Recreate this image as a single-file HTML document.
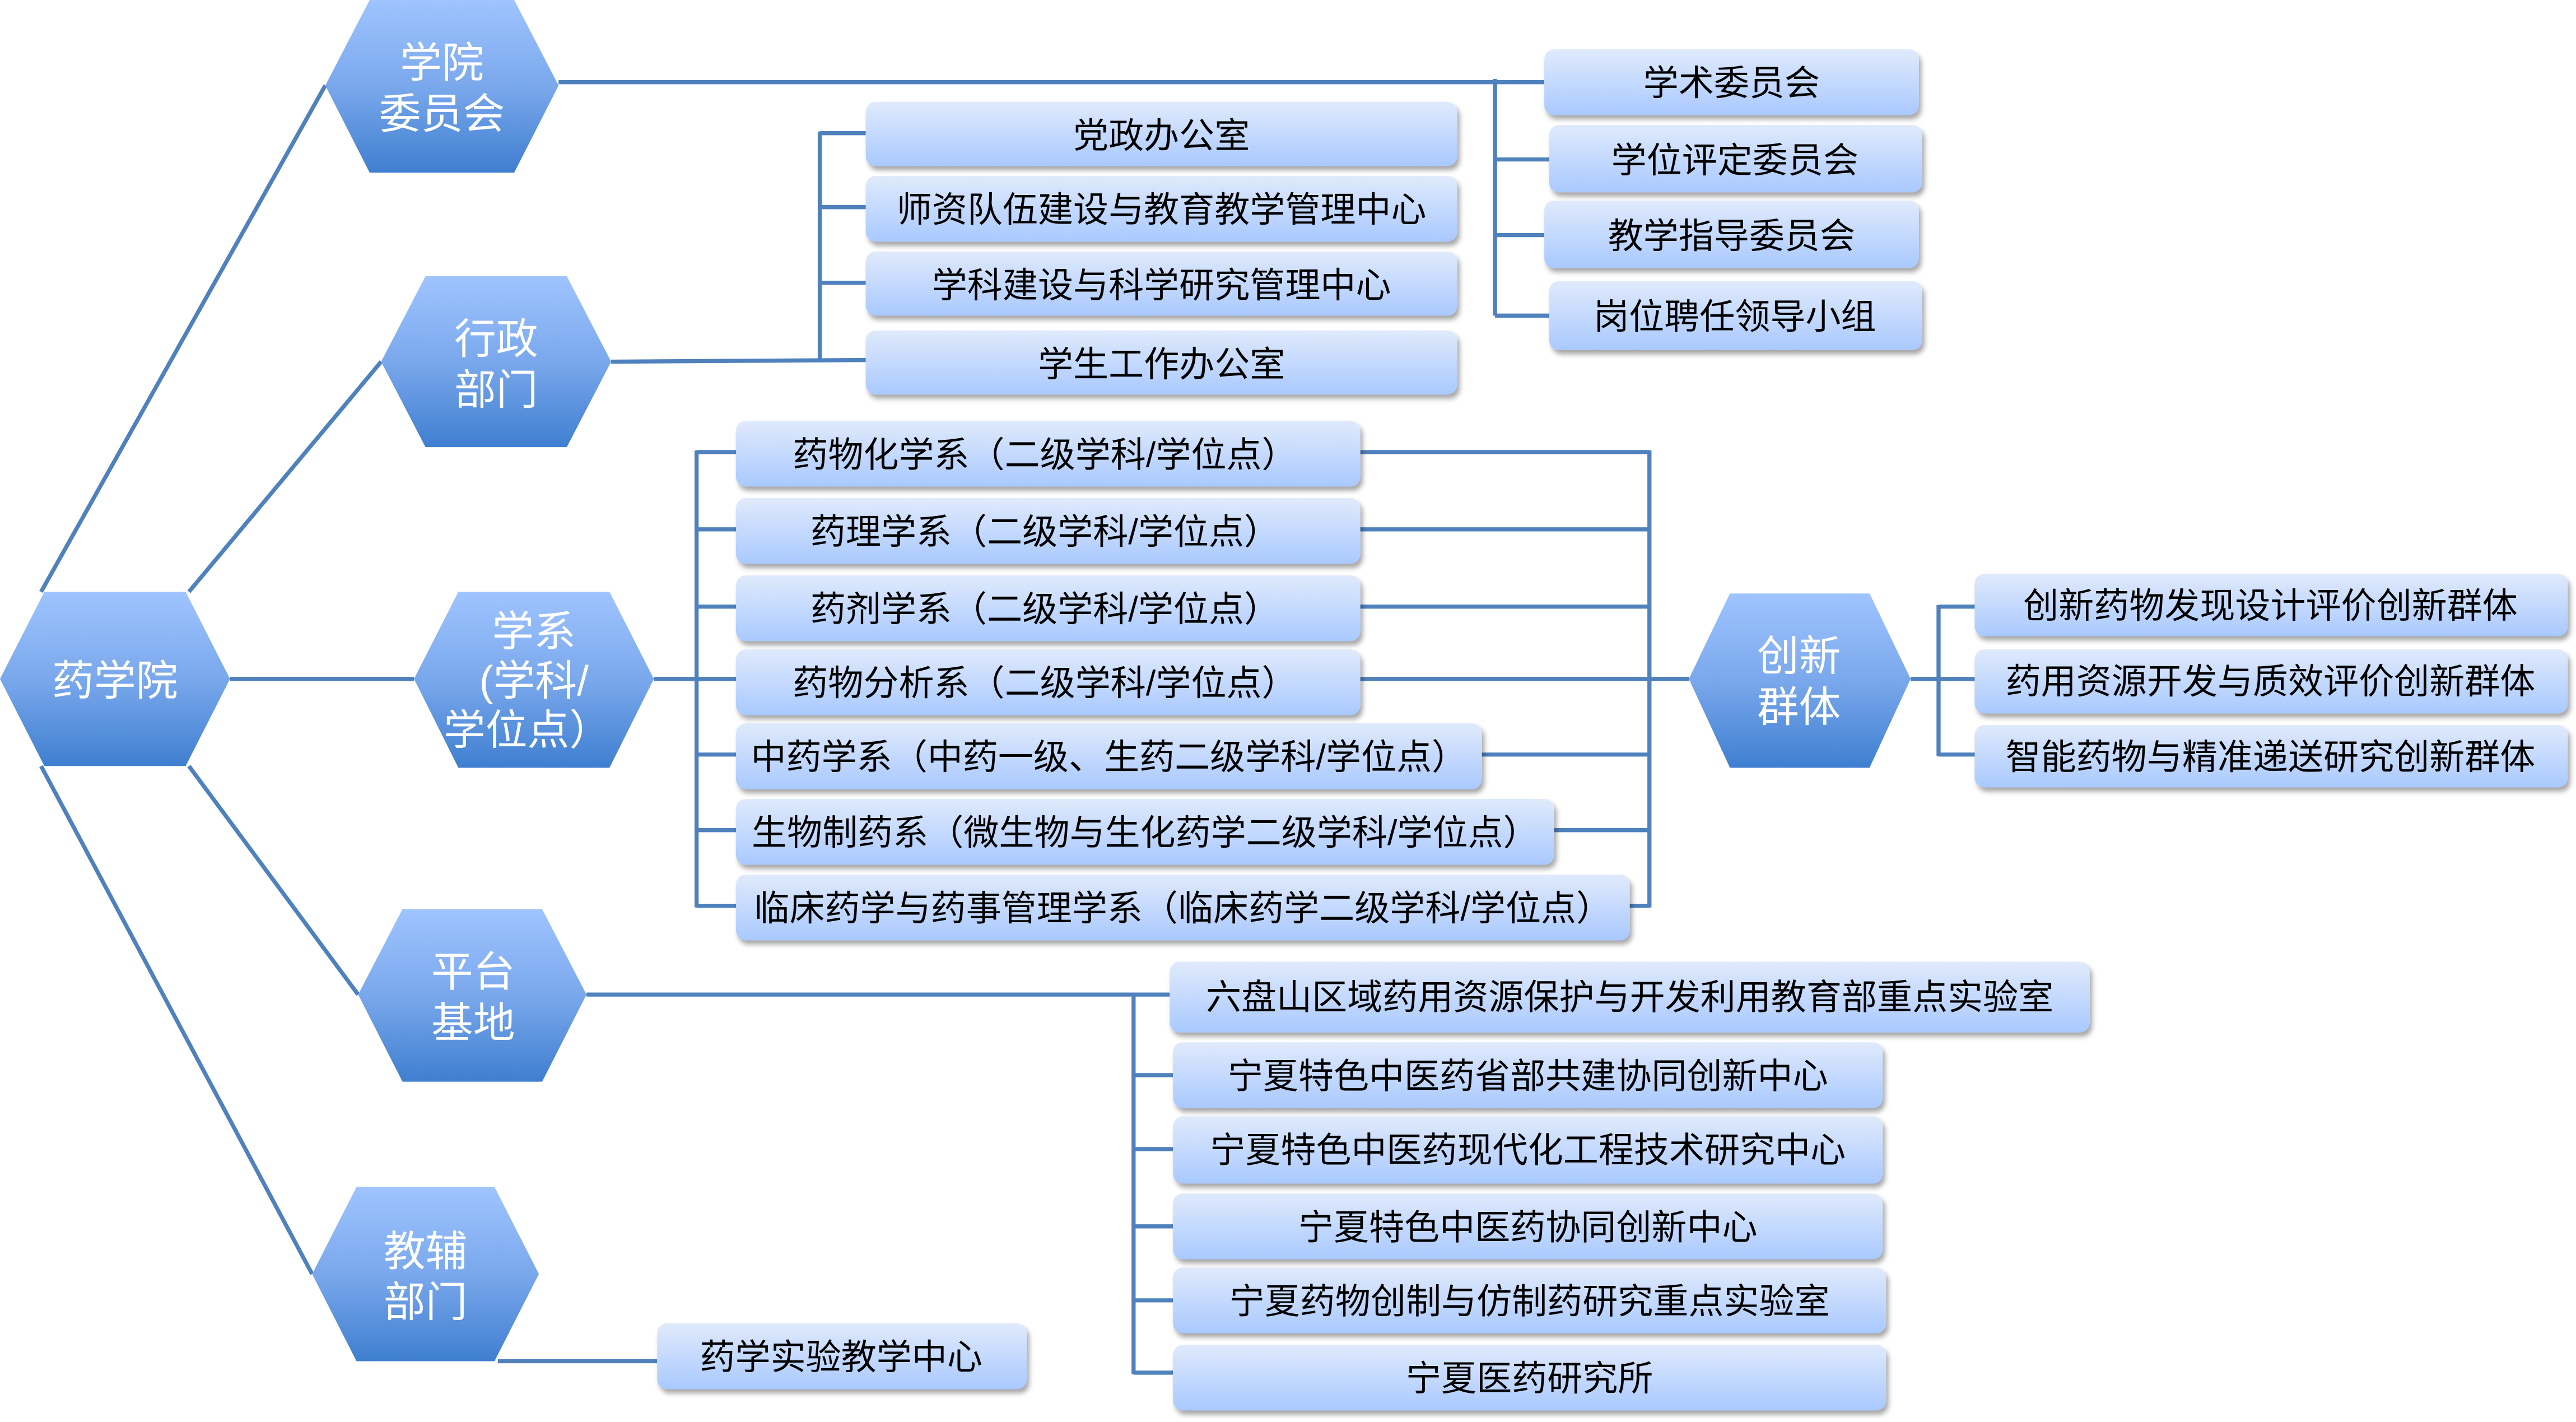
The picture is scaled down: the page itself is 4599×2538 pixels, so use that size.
<!DOCTYPE html>
<html><head><meta charset="utf-8"><style>
html,body{margin:0;padding:0;background:#fff;}
svg{display:block;}
text{font-family:"Liberation Sans","Noto Sans CJK SC",sans-serif;}
</style></head><body>
<svg width="4599" height="2538" viewBox="0 0 1568 865" preserveAspectRatio="none" xmlns="http://www.w3.org/2000/svg">
<defs>
<linearGradient id="hg" x1="0" y1="0" x2="0" y2="1"><stop offset="0" stop-color="#9fc4ff"/><stop offset="0.5" stop-color="#7aa8ec"/><stop offset="1" stop-color="#3f7fd0"/></linearGradient>
<linearGradient id="bg" x1="0" y1="0" x2="0" y2="1"><stop offset="0" stop-color="#e0eafc"/><stop offset="1" stop-color="#a9c9ff"/></linearGradient>
<filter id="sh" x="-5%" y="-20%" width="110%" height="160%"><feDropShadow dx="1.5" dy="2.5" stdDeviation="1.5" flood-color="#000" flood-opacity="0.35"/></filter>
</defs>
<g stroke="#4f81bd" stroke-width="2.5" fill="none">
<line x1="25" y1="360" x2="198" y2="52"/>
<line x1="115" y1="360" x2="232" y2="220"/>
<line x1="140" y1="413" x2="252" y2="413"/>
<line x1="115" y1="466" x2="218" y2="605"/>
<line x1="25" y1="466" x2="190" y2="775"/>
<polyline points="340,50 910,50"/>
<line x1="910" y1="48" x2="910" y2="192"/>
<line x1="910" y1="50" x2="940" y2="50"/><line x1="910" y1="97" x2="943" y2="97"/><line x1="910" y1="143" x2="940" y2="143"/><line x1="910" y1="192" x2="943" y2="192"/>
<line x1="372" y1="220" x2="527" y2="219"/>
<line x1="499" y1="80" x2="499" y2="220"/>
<line x1="499" y1="81" x2="527" y2="81"/><line x1="499" y1="126" x2="527" y2="126"/><line x1="499" y1="172" x2="527" y2="172"/>
<line x1="398" y1="413" x2="424" y2="413"/>
<line x1="424" y1="274" x2="424" y2="552"/>
<line x1="424" y1="275" x2="448" y2="275"/><line x1="424" y1="322" x2="448" y2="322"/><line x1="424" y1="369" x2="448" y2="369"/><line x1="424" y1="413" x2="448" y2="413"/><line x1="424" y1="459" x2="448" y2="459"/><line x1="424" y1="505" x2="448" y2="505"/><line x1="424" y1="551" x2="448" y2="551"/>
<line x1="1004" y1="274" x2="1004" y2="552"/>
<line x1="828" y1="275" x2="1004" y2="275"/><line x1="828" y1="322" x2="1004" y2="322"/><line x1="828" y1="369" x2="1004" y2="369"/><line x1="828" y1="413" x2="1028" y2="413"/><line x1="902" y1="459" x2="1004" y2="459"/><line x1="946" y1="505" x2="1004" y2="505"/><line x1="992" y1="551" x2="1004" y2="551"/>
<line x1="1163" y1="413" x2="1202" y2="413"/>
<line x1="1180" y1="368" x2="1180" y2="460"/>
<line x1="1180" y1="369" x2="1202" y2="369"/><line x1="1180" y1="459" x2="1202" y2="459"/>
<line x1="357" y1="605" x2="712" y2="605"/>
<line x1="690" y1="605" x2="690" y2="836"/>
<line x1="690" y1="654" x2="714" y2="654"/><line x1="690" y1="699" x2="714" y2="699"/><line x1="690" y1="746" x2="714" y2="746"/><line x1="690" y1="791" x2="714" y2="791"/><line x1="690" y1="835" x2="714" y2="835"/>
<line x1="303" y1="828" x2="400" y2="828"/>
</g>
<g fill="url(#hg)">
<polygon points="198,52 225,0 313,0 340,52 313,105 225,105"/>
<polygon points="232,220 259,168 345,168 372,220 345,272 259,272"/>
<polygon points="252,413 279,360 371,360 398,413 371,467 279,467"/>
<polygon points="218,605 245,553 330,553 357,605 330,658 245,658"/>
<polygon points="190,775 217,722 301,722 328,775 301,828 217,828"/>
<polygon points="0,413 27,360 113,360 140,413 113,466 27,466"/>
<polygon points="1028,413 1053,361 1138,361 1163,413 1138,467 1053,467"/>
</g>
<g fill="#fff" font-size="25.5" text-anchor="middle">
<text x="269" y="47">学院</text><text x="269" y="78">委员会</text>
<text x="302" y="215">行政</text><text x="302" y="246">部门</text>
<text x="325" y="393">学系</text><text x="325" y="423">(学科/</text><text x="321" y="453">学位点）</text>
<text x="288" y="600">平台</text><text x="288" y="631">基地</text>
<text x="259" y="770">教辅</text><text x="259" y="801">部门</text>
<text x="70" y="423">药学院</text>
<text x="1095" y="408">创新</text><text x="1095" y="439">群体</text>
</g>
<g fill="url(#bg)" filter="url(#sh)">
<rect x="940" y="30" width="228" height="40" rx="6"/>
<rect x="943" y="76" width="227" height="41" rx="6"/>
<rect x="940" y="122" width="228" height="41" rx="6"/>
<rect x="943" y="171" width="227" height="42" rx="6"/>
<rect x="527" y="62" width="360" height="39" rx="6"/>
<rect x="527" y="107" width="360" height="40" rx="6"/>
<rect x="527" y="153" width="360" height="39" rx="6"/>
<rect x="527" y="201" width="360" height="39" rx="6"/>
<rect x="448" y="256" width="380" height="40" rx="6"/>
<rect x="448" y="303" width="380" height="40" rx="6"/>
<rect x="448" y="350" width="380" height="40" rx="6"/>
<rect x="448" y="395" width="380" height="40" rx="6"/>
<rect x="448" y="440" width="454" height="40" rx="6"/>
<rect x="448" y="486" width="498" height="40" rx="6"/>
<rect x="448" y="532" width="544" height="40" rx="6"/>
<rect x="1202" y="349" width="361" height="38" rx="6"/>
<rect x="1202" y="395" width="361" height="39" rx="6"/>
<rect x="1202" y="441" width="361" height="38" rx="6"/>
<rect x="712" y="585" width="560" height="43" rx="6"/>
<rect x="714" y="634" width="432" height="40" rx="6"/>
<rect x="714" y="679" width="432" height="41" rx="6"/>
<rect x="714" y="726" width="432" height="40" rx="6"/>
<rect x="714" y="771" width="434" height="40" rx="6"/>
<rect x="714" y="818" width="434" height="40" rx="6"/>
<rect x="400" y="805" width="225" height="40" rx="6"/>
</g>
<g fill="#000" font-size="21.5" text-anchor="middle">
<text x="1054" y="58">学术委员会</text>
<text x="1056" y="105">学位评定委员会</text>
<text x="1054" y="151">教学指导委员会</text>
<text x="1056" y="200">岗位聘任领导小组</text>
<text x="707" y="90">党政办公室</text>
<text x="707" y="135">师资队伍建设与教育教学管理中心</text>
<text x="707" y="181">学科建设与科学研究管理中心</text>
<text x="707" y="229">学生工作办公室</text>
<text x="636" y="284">药物化学系（二级学科/学位点）</text>
<text x="636" y="331">药理学系（二级学科/学位点）</text>
<text x="636" y="378">药剂学系（二级学科/学位点）</text>
<text x="636" y="423">药物分析系（二级学科/学位点）</text>
<text x="675" y="468">中药学系（中药一级、生药二级学科/学位点）</text>
<text x="697" y="514">生物制药系（微生物与生化药学二级学科/学位点）</text>
<text x="720" y="560">临床药学与药事管理学系（临床药学二级学科/学位点）</text>
<text x="1382" y="376">创新药物发现设计评价创新群体</text>
<text x="1382" y="422">药用资源开发与质效评价创新群体</text>
<text x="1382" y="468">智能药物与精准递送研究创新群体</text>
<text x="992" y="614">六盘山区域药用资源保护与开发利用教育部重点实验室</text>
<text x="930" y="662">宁夏特色中医药省部共建协同创新中心</text>
<text x="930" y="707">宁夏特色中医药现代化工程技术研究中心</text>
<text x="930" y="754">宁夏特色中医药协同创新中心</text>
<text x="931" y="799">宁夏药物创制与仿制药研究重点实验室</text>
<text x="931" y="846">宁夏医药研究所</text>
<text x="512" y="833">药学实验教学中心</text>
</g>
</svg>
</body></html>
